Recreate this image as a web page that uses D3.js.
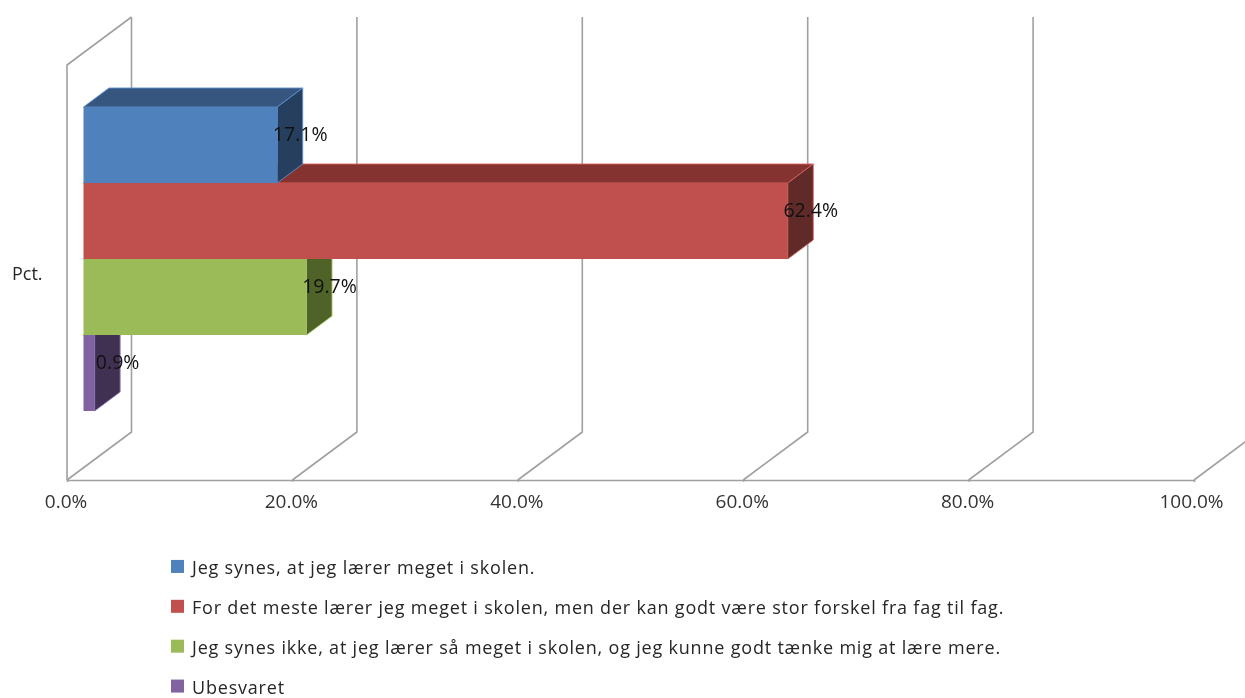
<!DOCTYPE html>
<html lang="da">
<head>
<meta charset="utf-8">
<script src="https://cdn.jsdelivr.net/npm/d3@7/dist/d3.min.js"></script>
<style>
html,body{margin:0;padding:0;background:#fff;overflow:hidden}
svg{display:block;filter:blur(0.5px)}
text{font-family:"Open Sans","Noto Sans",sans-serif;fill:#262626}
</style>
</head>
<body>
<svg id="c" width="1245" height="698"></svg>
<script>
const categoryLabel = "Pct.";
const seriesNames = [
  "Jeg synes, at jeg lærer meget i skolen.",
  "For det meste lærer jeg meget i skolen, men der kan godt være stor forskel fra fag til fag.",
  "Jeg synes ikke, at jeg lærer så meget i skolen, og jeg kunne godt tænke mig at lære mere.",
  "Ubesvaret"
];
const seriesValues = [17.1, 62.4, 19.7, 0.9];
const axisTicks = [0, 20, 40, 60, 80, 100];
const frontColors = ["#4F81BD", "#C0504D", "#9BBB59", "#8064A2"];
const topColors = ["#37567F", "#843330", "#6B8238", "#59466F"];
const sideColors = ["#263F5E", "#5F2A28", "#4F6228", "#403152"];
const edgeColors = ["#5B8FCF", "#D8605C", "#A9CC62", "#9A7CC0"];

const svg = d3.select("#c");
const fmt = v => v.toFixed(1) + "%";

const floorY = 480, wallTopY = 17;
const wallDx = 64.5, wallDy = -48;
const barDx = 25.5, barDy = -19;
const barInset = 16.5;

const x = d3.scaleLinear().domain([0, 100]).range([67, 1194]);
const y = d3.scaleBand().domain(seriesNames).range([107, 411]).padding(0);
const legendY = d3.scaleBand().domain(seriesNames).range([548, 707.5]);

const grid = "#A0A0A0";

// walls and gridlines
const g = svg.append("g").attr("fill", "none").attr("stroke", grid).attr("stroke-width", 1.6);
g.selectAll("path.tick3d").data(axisTicks).join("path")
  .attr("class", "tick3d")
  .attr("d", t => {
    const p = d3.path();
    p.moveTo(x(t), floorY);
    p.lineTo(x(t) + wallDx, floorY + wallDy);
    p.lineTo(x(t) + wallDx, wallTopY);
    return p.toString();
  });
{
  const p = d3.path();
  p.moveTo(x(0) + wallDx, wallTopY);
  p.lineTo(x(0), wallTopY - wallDy);
  p.lineTo(x(0), floorY);
  g.append("path").attr("d", p.toString());
}

// axis
const axis = d3.axisBottom(x).tickValues(axisTicks).tickFormat(fmt).tickSize(2).tickPadding(13);
const ax = svg.append("g").attr("transform", `translate(0,${floorY})`).call(axis);
ax.select(".domain").attr("stroke", grid).attr("stroke-width", 1.6);
ax.selectAll(".tick line").attr("stroke", grid).attr("stroke-width", 1.2);
ax.selectAll(".tick text").attr("font-size", 19).attr("dx", -1.5)
  .attr("font-family", '"Open Sans","Noto Sans",sans-serif')
  .style("fill", "#333");
ax.selectAll(".tick text").filter(t => t === 100).attr("dx", -3);

// category label
svg.append("text").attr("x", 12).attr("y", 280).attr("font-size", 18).text(categoryLabel);

// bars, bottom series first so upper ones overlap
const rows = seriesNames.map((name, i) => ({ name, i, value: seriesValues[i] }));
const bars = svg.append("g").selectAll("g").data(rows.slice().reverse()).join("g")
  .attr("stroke-width", 0.9).attr("stroke-linejoin", "round");
const x0 = d => x(0) + barInset;
const x1 = d => x0(d) + x(d.value) - x(0) + 1;
const yT = d => y(d.name);
const yB = d => y(d.name) + y.bandwidth();

bars.append("polygon").attr("fill", d => topColors[d.i]).attr("stroke", d => edgeColors[d.i])
  .attr("points", d => [[x0(d), yT(d)], [x1(d), yT(d)], [x1(d) + barDx, yT(d) + barDy], [x0(d) + barDx, yT(d) + barDy]].join(" "));
bars.append("polygon").attr("fill", d => sideColors[d.i]).attr("stroke", d => edgeColors[d.i])
  .attr("points", d => [[x1(d), yT(d)], [x1(d) + barDx, yT(d) + barDy], [x1(d) + barDx, yB(d) + barDy], [x1(d), yB(d)]].join(" "));
bars.append("rect").attr("fill", d => frontColors[d.i]).attr("stroke", "none")
  .attr("x", x0).attr("y", yT).attr("width", d => x1(d) - x0(d)).attr("height", y.bandwidth());

// data labels
svg.append("g").selectAll("text").data(rows).join("text")
  .attr("text-anchor", "middle")
  .attr("font-size", 19.5)
  .style("fill", "#111")
  .attr("x", d => x1(d) + barDx - 2.5)
  .attr("y", d => yT(d) + y.bandwidth() / 2 + barDy / 2 - 2)
  .attr("dy", "0.36em")
  .text(d => fmt(d.value));

// legend
const leg = svg.append("g").selectAll("g").data(rows).join("g")
  .attr("transform", d => `translate(171,${legendY(d.name) + legendY.bandwidth() / 2})`);
leg.append("rect").attr("x", 0).attr("y", -8).attr("width", 13).attr("height", 13).attr("fill", d => frontColors[d.i]);
leg.append("text").attr("x", 21).attr("y", 0).attr("dy", "0.36em").attr("font-size", 18).attr("letter-spacing", 0.8).text(d => d.name);
</script>
</body>
</html>
